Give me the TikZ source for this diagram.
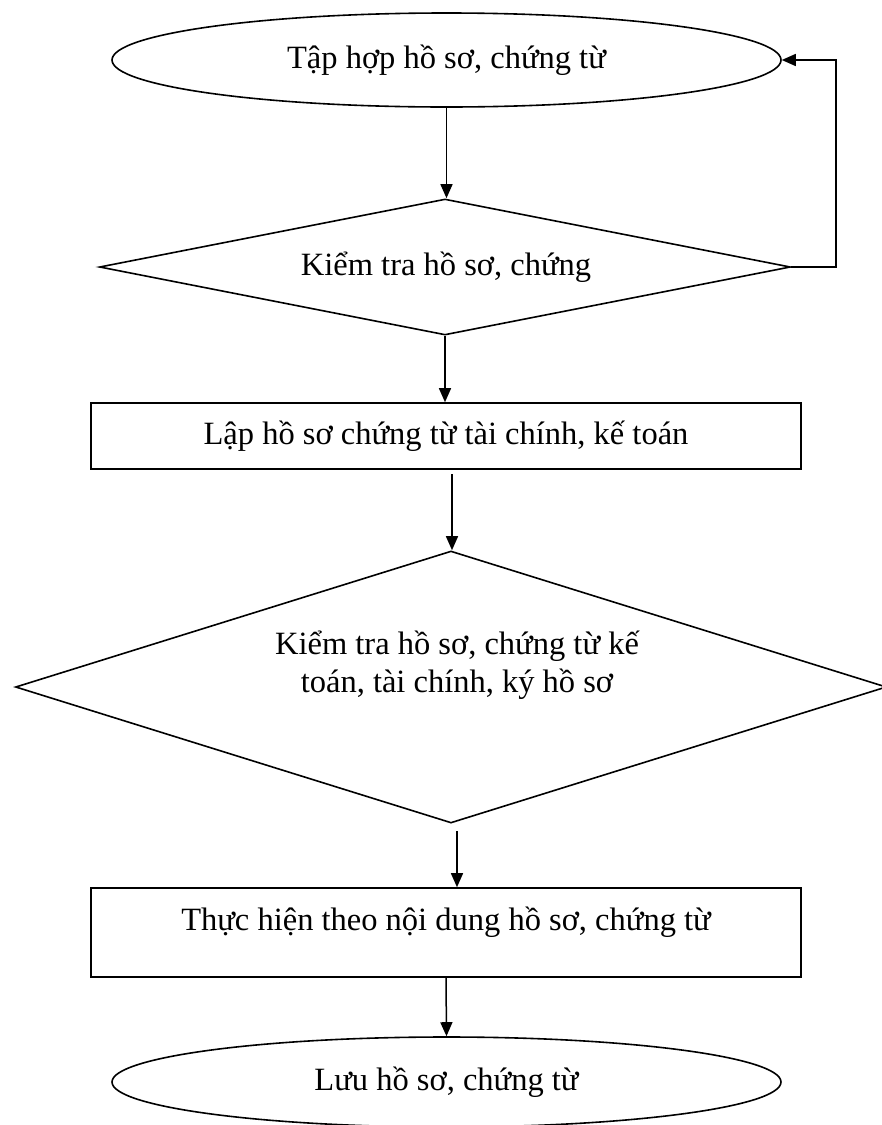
\documentclass[tikz,border=0pt]{standalone}
\usepackage{fontspec}
\setmainfont{Liberation Serif}
\usetikzlibrary{shapes.geometric,arrows.meta,calc}
\begin{document}
\begin{tikzpicture}[x=1pt,y=-1pt,
  every node/.style={font=\fontsize{32.5}{38}\selectfont},
  shapeline/.style={draw, line width=1.6pt, inner sep=0pt},
  oval/.style={shapeline, ellipse},
  decision/.style={shapeline, diamond},
  procbox/.style={shapeline, rectangle},
  txt/.style={inner sep=0pt, align=center},
  arr/.style={line width=1.5pt, -{Triangle[length=14pt,width=12pt]}}]
\useasboundingbox (0,0) rectangle (882,1125);

\node[oval, minimum width=669pt, minimum height=94pt] (e1) at (446.5,60) {Tập hợp hồ sơ, chứng từ};
\node[decision, minimum width=691pt, minimum height=136pt] (d1) at (445,267) {};
\node[txt] (d1t) at (446,267) {Kiểm tra hồ sơ, chứng};
\node[procbox, minimum width=710pt, minimum height=66pt] (r1) at (446,436) {Lập hồ sơ chứng từ tài chính, kế toán};
\node[decision, minimum width=871pt, minimum height=272pt] (d2) at (451,687) {};
\node[txt] (d2t) at (457,665) {Kiểm tra hồ sơ, chứng từ kế\\toán, tài chính, ký hồ sơ};
\node[procbox, minimum width=710pt, minimum height=89pt] (r2) at (446,932.5) {};
\node[txt] (r2t) at (446,922) {Thực hiện theo nội dung hồ sơ, chứng từ};
\node[oval, minimum width=669pt, minimum height=90pt] (e2) at (446.5,1082) {Lưu hồ sơ, chứng từ};

\coordinate (a4s) at (452,474);
\coordinate (a5s) at (457,831);
\coordinate (loop) at (836,267);

\draw[arr] (e1.south) -- (e1.south |- d1.north);
\draw[arr] (d1.south) -- (d1.south |- r1.north);
\draw[arr] (a4s) -- (a4s |- d2.north);
\draw[arr] (a5s) -- (a5s |- r2.north);
\draw[arr] (r2.south) -- (e2.north);
\draw[arr] (d1.east) -- (loop) |- (e1.east);
\end{tikzpicture}
\end{document}
